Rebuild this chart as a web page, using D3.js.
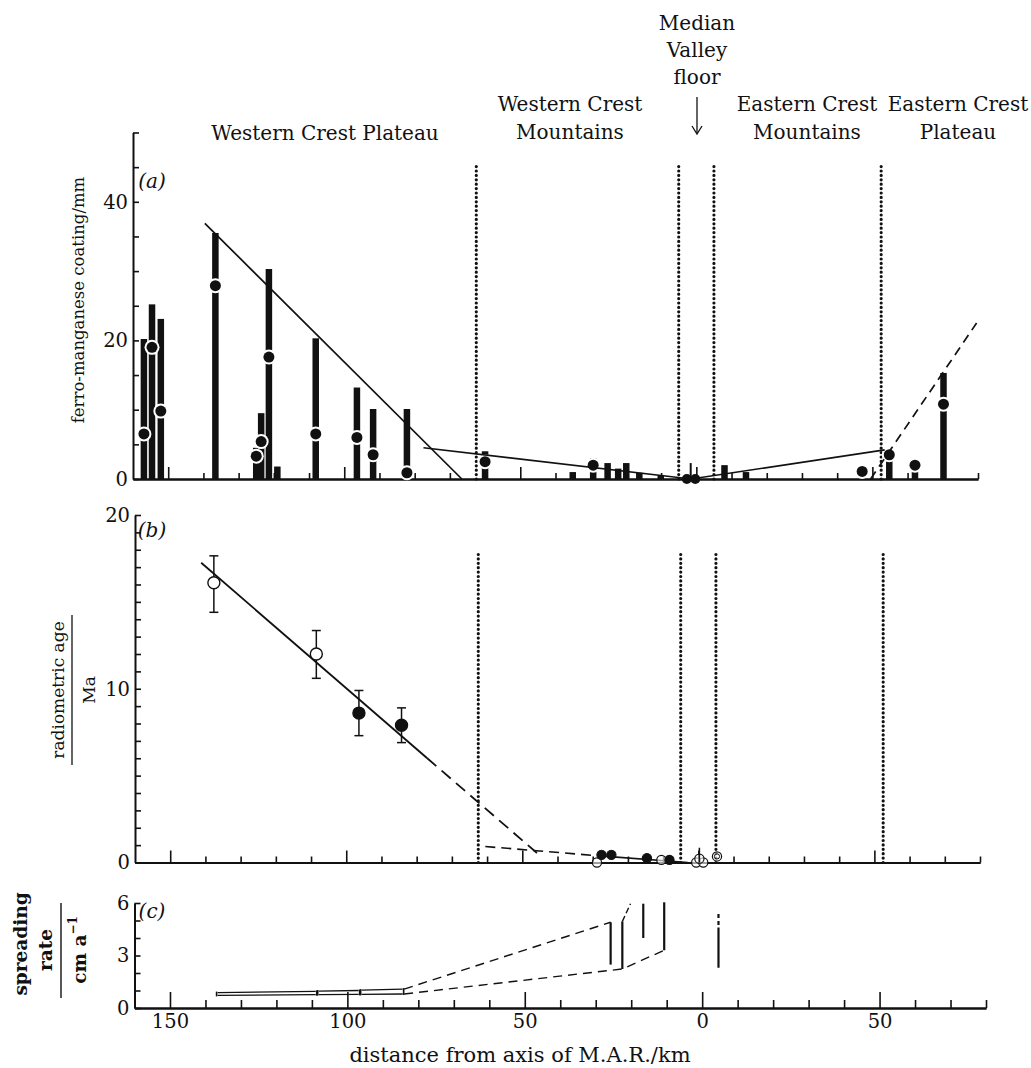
<!DOCTYPE html>
<html><head><meta charset="utf-8">
<script src="https://cdn.jsdelivr.net/npm/d3@7"></script>
<style>body{margin:0;background:#fff} svg{display:block}</style>
</head><body>
<svg id="chart" width="1031" height="1068"></svg>
<script>
// ---------- data ----------
const xMajorTicks = [-150, -100, -50, 0, 50];
const xMinorTicks = [-140, -130, -120, -110, -90, -80, -70, -60, -40, -30, -20, -10, 10, 20, 30, 40, 60, 70, 80];
const zoneBoundaries = [-62.5, -5, 5, 52.5];

// panel (a): ferro-manganese coating thickness (range bars, median dots)
const coatX   = [-156.9, -154.6, -152.1, -136.6, -125.0, -123.6, -121.4, -119.0, -108.1, -96.4, -91.8, -82.2, -60.0, -35.1, -29.3, -25.2, -22.2, -19.9, -16.2, -10.1, -1.6, 8.0, 14.1, 47.1, 54.8, 62.1, 70.2];
const coatMax = [20.2, 25.2, 23.1, 35.5, 4.5, 9.5, 30.3, 1.8, 20.3, 13.2, 10.1, 10.1, 4.0, 1.0, 3.0, 2.3, 1.5, 2.3, 0.9, 0.5, 2.3, 2.0, 1.0, 2.0, 3.8, 2.5, 15.3];
const coatMed = [6.5, 19.0, 9.8, 27.9, 3.3, 5.4, 17.6, null, 6.5, 6.0, 3.5, 0.9, 2.5, null, 2.0, null, null, null, null, null, null, null, null, 1.1, 3.5, 2.0, 10.8];
const coatThin = [-1.6];
const coatAxisDotsX = [-2.7, -0.3];
const coatWestFitX = [-139.6, -66.6];
const coatWestFitY = [36.9, 0];
const coatAxisFitX = [-77.5, -1.5, 53.5];
const coatAxisFitY = [4.5, 0, 4.2];
const coatEastFitX = [49.5, 79.6];
const coatEastFitY = [0, 22.5];

// panel (b): radiometric ages
const ageX   = [-137.6, -108.5, -96.4, -84.3];
const ageY   = [16.1, 12.0, 8.6, 7.9];
const ageLo  = [14.4, 10.6, 7.3, 6.9];
const ageHi  = [17.65, 13.35, 9.9, 8.9];
const ageFilled = [false, false, true, true];
const youngX = [-28.8, -27.5, -24.7, -14.6, -10.5, -8.2, -0.6, 1.4, 0.3, 5.3];
const youngY = [0.0, 0.44, 0.44, 0.25, 0.15, 0.15, 0.0, 0.0, 0.22, 0.35];
const youngFilled = [false, true, true, true, false, true, false, false, false, false];
const ageFitSolidX = [-141.2, -77];
const ageFitSolidY = [17.25, 6.0];
const ageFitDashX = [-77, -45];
const ageFitDashY = [6.0, 0.4];
const youngFitDashX = [-60.5, -28];
const youngFitDashY = [0.92, 0.38];
const youngFitSolidX = [-28, -3];
const youngFitSolidY = [0.38, 0];

// panel (c): spreading rate
const rateSegX0 = [-137, -108.5, -96.4];
const rateSegX1 = [-108.5, -96.4, -84];
const rateUp0 = [0.88, 0.97, 1.02];
const rateUp1 = [0.95, 1.0, 1.08];
const rateLow0 = [0.72, 0.77, 0.78];
const rateLow1 = [0.76, 0.78, 0.80];
const rateDashUpX = [-84, -25.8];
const rateDashUpY = [1.08, 4.9];
const rateDashLowX = [-84, -22.5, -10.7];
const rateDashLowY = [0.8, 2.23, 3.3];
const rateDashTopX = [-22.5, -20.2];
const rateDashTopY = [4.95, 5.96];
const rateBarX  = [-25.8, -22.5, -16.6, -10.7, 4.6];
const rateBarLo = [2.48, 2.23, 4.0, 3.3, 2.3];
const rateBarHi = [4.9, 4.95, 5.96, 6.04, 4.6];
const rateBarDashX = [4.6];
const rateBarDashLo = [4.75];
const rateBarDashHi = [5.55];

// ---------- drawing ----------
const FONT = "DejaVu Serif";
const svg = d3.select("#chart");
svg.append("rect").attr("width", 1031).attr("height", 1068).attr("fill", "#fff");
const ink = "#111";

const xA = d3.scaleLinear().domain([-160, 80]).range([133, 978]);
const yA = d3.scaleLinear().domain([0, 50]).range([479, 132.5]);
const xB = d3.scaleLinear().domain([-160, 80]).range([135, 980]);
const yB = d3.scaleLinear().domain([0, 20]).range([862.5, 515]);
const xC = d3.scaleLinear().domain([-160, 80]).range([134.5, 986]);
const yC = d3.scaleLinear().domain([0, 6]).range([1008, 903]);

function drawAxes(xs, ys, yTicks, yLabels, majorLen, minorLen, showX) {
  const g = svg.append("g");
  const y0 = ys(0), x0 = xs(-160);
  g.append("g").attr("transform", `translate(0,${y0})`)
    .call(d3.axisBottom(xs).tickValues(xMinorTicks).tickSize(-minorLen).tickSizeOuter(0).tickFormat(""));
  g.append("g").attr("transform", `translate(0,${y0})`)
    .call(d3.axisBottom(xs).tickValues(xMajorTicks).tickSize(-majorLen).tickSizeOuter(0)
      .tickPadding(6).tickFormat(showX ? d => Math.abs(d) : ""));
  g.append("g").attr("transform", `translate(${x0},0)`)
    .call(d3.axisLeft(ys).tickValues(yTicks).tickSize(-6).tickSizeOuter(0).tickPadding(5)
      .tickFormat(d => yLabels.includes(d) ? d : ""));
  g.selectAll("path.domain").attr("stroke", ink).attr("stroke-width", 2);
  g.selectAll(".tick line").attr("stroke", ink).attr("stroke-width", 1.6);
  g.selectAll("text").attr("font-family", FONT).attr("font-size", 19.5).attr("fill", ink);
}

function line(xs, ys, X, Y, dash, w) {
  svg.append("path").datum(X.map((x, i) => [x, Y[i]]))
    .attr("d", d3.line().x(d => xs(d[0])).y(d => ys(d[1])))
    .attr("fill", "none").attr("stroke", ink).attr("stroke-width", w || 1.6)
    .attr("stroke-dasharray", dash || null);
}

function dotted(xs, ys, top) {
  svg.append("g").selectAll("line").data(zoneBoundaries).join("line")
    .attr("x1", d => xs(d)).attr("x2", d => xs(d))
    .attr("y1", ys(0)).attr("y2", ys(top))
    .attr("stroke", ink).attr("stroke-width", 3.2).attr("stroke-linecap", "round")
    .attr("stroke-dasharray", "0 4.4");
}

// ----- panel (a)
drawAxes(xA, yA, d3.range(0, 51, 5), [0, 20, 40], 12, 6, false);
dotted(xA, yA, 45.3);
const bars = svg.append("g");
coatX.forEach((x, i) => {
  const w = coatThin.includes(x) ? 2 : 6.5;
  bars.append("rect").attr("x", xA(x) - w / 2).attr("width", w)
    .attr("y", yA(coatMax[i])).attr("height", yA(0) - yA(coatMax[i])).attr("fill", ink);
});
coatX.forEach((x, i) => {
  if (coatMed[i] == null) return;
  bars.append("circle").attr("cx", xA(x)).attr("cy", yA(coatMed[i])).attr("r", 7.5).attr("fill", "#fff");
});
coatX.forEach((x, i) => {
  if (coatMed[i] == null) return;
  bars.append("circle").attr("cx", xA(x)).attr("cy", yA(coatMed[i])).attr("r", 5.5).attr("fill", ink);
});
coatAxisDotsX.forEach(x => bars.append("circle").attr("cx", xA(x)).attr("cy", yA(0)).attr("r", 5).attr("fill", ink));
line(xA, yA, coatWestFitX, coatWestFitY, null, 1.7);
line(xA, yA, coatAxisFitX, coatAxisFitY, null, 1.6);
line(xA, yA, coatEastFitX, coatEastFitY, "9 6", 1.7);

// ----- panel (b)
drawAxes(xB, yB, d3.range(0, 21, 1), [0, 10, 20], 12, 6, false);
dotted(xB, yB, 17.9);
line(xB, yB, ageFitSolidX, ageFitSolidY, null, 1.8);
line(xB, yB, ageFitDashX, ageFitDashY, "12 7", 1.8);
line(xB, yB, youngFitDashX, youngFitDashY, "10 6", 1.6);
line(xB, yB, youngFitSolidX, youngFitSolidY, null, 1.6);
const eb = svg.append("g").attr("stroke", ink).attr("stroke-width", 1.5);
ageX.forEach((x, i) => {
  const cx = xB(x);
  eb.append("line").attr("x1", cx).attr("x2", cx).attr("y1", yB(ageLo[i])).attr("y2", yB(ageHi[i]));
  eb.append("line").attr("x1", cx - 4.5).attr("x2", cx + 4.5).attr("y1", yB(ageLo[i])).attr("y2", yB(ageLo[i]));
  eb.append("line").attr("x1", cx - 4.5).attr("x2", cx + 4.5).attr("y1", yB(ageHi[i])).attr("y2", yB(ageHi[i]));
});
ageX.forEach((x, i) => {
  svg.append("circle").attr("cx", xB(x)).attr("cy", yB(ageY[i])).attr("r", 6)
    .attr("fill", ageFilled[i] ? ink : "#fff").attr("stroke", ink).attr("stroke-width", 1.4);
});
youngX.forEach((x, i) => {
  svg.append("circle").attr("cx", xB(x)).attr("cy", yB(youngY[i])).attr("r", 4.6)
    .attr("fill", youngFilled[i] ? ink : "#fff").attr("stroke", ink).attr("stroke-width", 1.2)
    .attr("fill-opacity", youngFilled[i] ? 1 : 0.6);
});
svg.append("circle").attr("cx", xB(5.3)).attr("cy", yB(0.35)).attr("r", 2.6)
  .attr("fill", "none").attr("stroke", ink).attr("stroke-width", 1);
svg.append("line").attr("x1", xB(0.3)).attr("x2", xB(0.3)).attr("y1", yB(0)).attr("y2", yB(0.85))
  .attr("stroke", ink).attr("stroke-width", 1.5);

// ----- panel (c)
drawAxes(xC, yC, d3.range(0, 7, 1), [0, 3, 6], 16, 8, true);
const rg = svg.append("g").attr("stroke", ink).attr("fill", "none");
rateSegX0.forEach((x0, i) => {
  const x1 = rateSegX1[i];
  rg.append("line").attr("x1", xC(x0) + 1.5).attr("x2", xC(x1) - 1.5)
    .attr("y1", yC(rateUp0[i])).attr("y2", yC(rateUp1[i])).attr("stroke-width", 1.3);
  rg.append("line").attr("x1", xC(x0) + 1.5).attr("x2", xC(x1) - 1.5)
    .attr("y1", yC(rateLow0[i])).attr("y2", yC(rateLow1[i])).attr("stroke-width", 1.3);
  rg.append("line").attr("x1", xC(x0) + 0.5).attr("x2", xC(x0) + 0.5)
    .attr("y1", yC(rateUp0[i]) - 1).attr("y2", yC(rateLow0[i]) + 1).attr("stroke-width", 1.6);
  rg.append("line").attr("x1", xC(x1) - 0.5).attr("x2", xC(x1) - 0.5)
    .attr("y1", yC(rateUp1[i]) - 1).attr("y2", yC(rateLow1[i]) + 1).attr("stroke-width", 1.6);
});
line(xC, yC, rateDashUpX, rateDashUpY, "9 6", 1.4);
line(xC, yC, rateDashLowX, rateDashLowY, "9 6", 1.4);
line(xC, yC, rateDashTopX, rateDashTopY, "6 3", 1.4);
rateBarX.forEach((x, i) => {
  rg.append("line").attr("x1", xC(x)).attr("x2", xC(x)).attr("y1", yC(rateBarLo[i])).attr("y2", yC(rateBarHi[i]))
    .attr("stroke-width", 2.2);
});
rateBarDashX.forEach((x, i) => {
  rg.append("line").attr("x1", xC(x)).attr("x2", xC(x)).attr("y1", yC(rateBarDashLo[i])).attr("y2", yC(rateBarDashHi[i]))
    .attr("stroke-width", 2.2).attr("stroke-dasharray", "4 3");
});

// ---------- text ----------
function txt(x, y, s, size, opts) {
  const t = svg.append("text").attr("x", x).attr("y", y).text(s)
    .attr("font-family", FONT).attr("font-size", size).attr("fill", ink)
    .attr("text-anchor", (opts && opts.anchor) || "middle");
  if (opts && opts.italic) t.attr("font-style", "italic");
  if (opts && opts.bold) t.attr("font-weight", "bold");
  if (opts && opts.rotate) t.attr("transform", `rotate(-90,${x},${y})`).attr("dominant-baseline", "central");
  return t;
}
const TS = 20;
txt(325, 140, "Western Crest Plateau", TS);
txt(570, 111, "Western Crest", TS);
txt(570, 139, "Mountains", TS);
txt(697, 30, "Median", TS);
txt(697, 57, "Valley", TS);
txt(697, 84, "floor", TS);
txt(807, 111, "Eastern Crest", TS);
txt(807, 139, "Mountains", TS);
txt(958, 111, "Eastern Crest", TS);
txt(958, 139, "Plateau", TS);
// arrow
svg.append("line").attr("x1", 697).attr("x2", 697).attr("y1", 97).attr("y2", 133)
  .attr("stroke", ink).attr("stroke-width", 1.3);
svg.append("path").attr("d", "M692,126 L697,134 L702,126").attr("fill", "none")
  .attr("stroke", ink).attr("stroke-width", 1.3);

txt(152, 188, "(a)", 20, {italic: true});
txt(152, 537, "(b)", 20, {italic: true});
txt(152, 918, "(c)", 20, {italic: true});

txt(78, 300, "ferro-manganese coating/mm", 16.5, {rotate: true});
txt(58, 690, "radiometric age", 17, {rotate: true});
svg.append("line").attr("x1", 72).attr("x2", 72).attr("y1", 615).attr("y2", 765).attr("stroke", ink).attr("stroke-width", 1.3);
txt(89, 690, "Ma", 17, {rotate: true});
txt(20, 944, "spreading", 18.5, {rotate: true, bold: true});
txt(45, 950, "rate", 18.5, {rotate: true, bold: true});
svg.append("line").attr("x1", 61).attr("x2", 61).attr("y1", 903).attr("y2", 998).attr("stroke", ink).attr("stroke-width", 1.4);
const cm = txt(79, 950, "cm a", 18.5, {rotate: true, bold: true});
cm.append("tspan").text("−1").attr("font-size", 12).attr("dy", "-0.5em");

txt(520, 1062, "distance from axis of M.A.R./km", 21);
</script>
</body></html>
